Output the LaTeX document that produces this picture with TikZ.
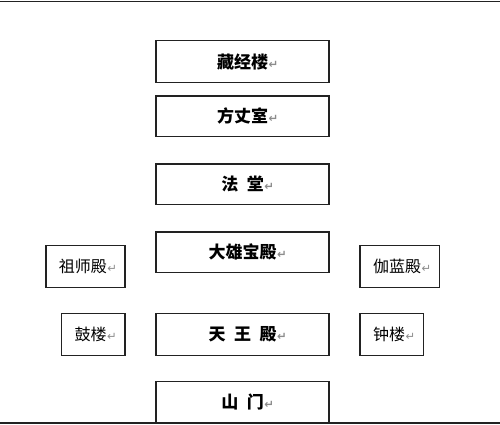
\documentclass[tikz,border=0pt]{standalone}
\usepackage{fontspec}
\newfontfamily\cjk{Noto Sans CJK SC}
\newfontfamily\symfont{DejaVu Sans}
\definecolor{edge}{HTML}{222222}
\definecolor{mark}{HTML}{8C8C8C}
\newcommand\retmark{\rlap{\hspace{0.5pt}\symfont\fontsize{11.5}{11.5}\selectfont\color{mark}↵}}
\newcommand\gap{\hspace{0.5em}}
\tikzset{
  box/.style={draw=edge, line width=1.2pt, inner sep=0pt, outer sep=0pt, minimum height=42pt},
  hall/.style={box, minimum width=173pt, font=\cjk\bfseries\fontsize{17}{17}\selectfont},
  side/.style={box, font=\cjk\fontsize{16}{16}\selectfont},
  sidetext/.style={font=\cjk\fontsize{16}{16}\selectfont, inner sep=0pt},
  rule/.style={draw=edge, line width=1.8pt}
}
\begin{document}
\begin{tikzpicture}[x=1pt,y=-1pt]
\useasboundingbox (0,0) rectangle (500,424);
\fill[white] (0,0) rectangle (500,424);
% top and bottom rules
\coordinate (tl) at (0,1.5);
\coordinate (tr) at (500,1.5);
\coordinate (bl) at (0,422.8);
\coordinate (br) at (500,422.8);
% central column
\node[hall, minimum height=42pt] (zjl) at (242.5,61.7) {藏经楼\retmark};
\node[hall, minimum height=40.7pt] (fzs) at (242.5,116.4) {方丈室\retmark};
\node[hall, minimum height=40.7pt] (ft) at (242.5,184.4) {法\gap 堂\retmark};
\node[hall, minimum height=40.7pt] (dxbd) at (242.5,252.4) {大雄宝殿\retmark};
\node[hall, minimum height=42pt] (twd) at (242.5,334.3) {天\gap 王\gap 殿\retmark};
\node[hall, minimum height=41.5pt] (sm) at (242.5,402.1) {山\gap 门\retmark};
% side halls
\node[side, minimum width=79pt] (zsd) at (85.5,266.3) {};
\node[sidetext] (zsdt) at (82.8,266.3) {祖师殿\retmark};
\node[side, minimum width=63.3pt] (gl) at (93.3,334.3) {};
\node[sidetext] (glt) at (90.6,334.3) {鼓楼\retmark};
\node[side, minimum width=79.3pt] (qld) at (399.7,266.3) {};
\node[sidetext] (qldt) at (397,266.3) {伽蓝殿\retmark};
\node[side, minimum width=63.3pt] (zl) at (391.7,334.3) {};
\node[sidetext] (zlt) at (389,334.3) {钟楼\retmark};
\draw[rule] (tl) -- (tr);
\draw[rule] (bl) -- (br);
\end{tikzpicture}
\end{document}
